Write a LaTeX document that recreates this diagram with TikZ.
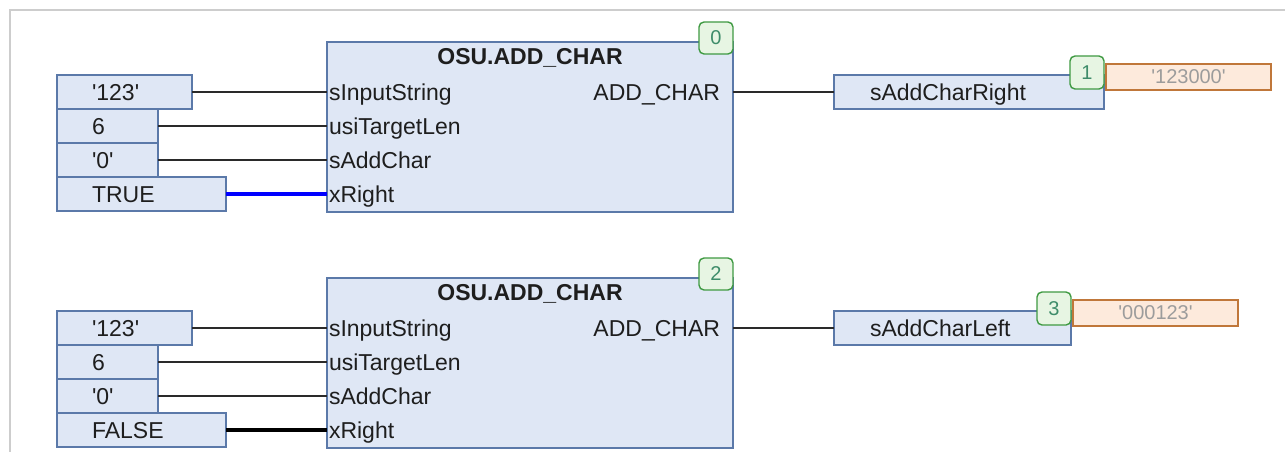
\documentclass[tikz,border=0pt]{standalone}
\usepackage{fontspec}
\setmainfont{Liberation Sans}
\usepackage{tikz}
\usetikzlibrary{positioning}
\definecolor{fbfill}{HTML}{DFE7F5}
\definecolor{fbline}{HTML}{5B79A9}
\definecolor{bdfill}{HTML}{E7F5E3}
\definecolor{bdline}{HTML}{3F9A42}
\definecolor{bdtext}{HTML}{3E8C6A}
\definecolor{valfill}{HTML}{FDEADC}
\definecolor{valline}{HTML}{C0773A}
\definecolor{valtext}{HTML}{9C9C9C}
\definecolor{txtc}{HTML}{1E1E1E}
\definecolor{wirec}{HTML}{2A2A2A}
\definecolor{framec}{HTML}{CDCDCD}
\definecolor{trueblue}{HTML}{0000FF}
\newcommand\fsz[1]{\fontsize{#1}{#1}\selectfont}
\newcommand\sq{\textquotesingle}
\tikzset{
  varbox/.style={draw=fbline,line width=1.4pt,fill=fbfill,minimum height=34pt,inner sep=0pt,outer sep=0pt,anchor=north west},
  fbbox/.style={draw=fbline,line width=1.6pt,fill=fbfill,minimum width=406pt,minimum height=170pt,inner sep=0pt,outer sep=0pt,anchor=north west},
  txt/.style={font=\fsz{23},text=txtc,inner sep=0pt,outer sep=0pt,text height=17pt,text depth=0pt,anchor=west},
  title/.style={font=\fsz{23}\bfseries,text=txtc,inner sep=0pt},
  badge/.style={draw=bdline,line width=1.4pt,fill=bdfill,rounded corners=5pt,minimum width=34pt,minimum height=32pt,inner sep=0pt,outer sep=0pt,anchor=north west,font=\fsz{20},text=bdtext},
  valbox/.style={draw=valline,line width=1.4pt,fill=valfill,minimum width=165pt,minimum height=26pt,inner sep=0pt,outer sep=0pt,anchor=north west,font=\fsz{20},text=valtext},
  wire/.style={line width=1.4pt,wirec},
  frame/.style={line width=2pt,framec}
}
\begin{document}
\begin{tikzpicture}[x=1pt,y=-1pt]
\useasboundingbox (0,0) rectangle (1285,452);
\draw[frame] (10,452) -- (10,10) -- (1285,10);
\foreach \rung/\ty/\nf/\no/\bval/\bcol/\oname/\ow/\vv in
  {A/42/0/1/TRUE/trueblue/sAddCharRight/270/123000,
   B/278/2/3/FALSE/black/sAddCharLeft/237/000123}{
  \pgfmathsetmacro\I{\ty+33}
  % function block
  \node[fbbox] (fb\rung) at (327,\ty) {};
  \node[badge] (bf\rung) at (699,\ty-20) {\nf};
  \node[title] (tt\rung) at (530,\ty+16) {OSU.ADD\_CHAR};
  \node[txt,anchor=east] (ol\rung) at (720,\I+17) {ADD\_CHAR};
  % inputs
  \foreach \v/\w/\p/\lw/\lc [count=\row from 0] in
    {{\sq123\sq}/135/sInputString/1.4/wirec, 6/101/usiTargetLen/1.4/wirec,
     {\sq0\sq}/101/sAddChar/1.4/wirec, \bval/169/xRight/4.5/\bcol}{
    \pgfmathsetmacro\yc{\I+17+34*\row}
    \node[varbox,minimum width=\w pt] (in\rung\row) at (57,\I+34*\row) {};
    \node[txt] (vt\rung\row) at (92,\yc) {\v};
    \coordinate (pin\rung\row) at (327,\yc);
    \node[txt] (pl\rung\row) at (329,\yc) {\p};
    \draw[line width=\lw pt,draw=\lc] (in\rung\row.east) -- (pin\rung\row);
  }
  % output
  \coordinate (q\rung) at (733,\I+17);
  \node[varbox,minimum width=\ow pt] (out\rung) at (834,\I) {};
  \node[txt] (ot\rung) at (870,\I+17) {\oname};
  \draw[wire] (q\rung) -- (out\rung.west);
  \node[badge,minimum height=33pt] (bo\rung) at (834+\ow-34,\I-19) {\no};
  \node[valbox] (val\rung) at (834+\ow+2,\I-11) {\sq\vv\sq};
}
\end{tikzpicture}
\end{document}
